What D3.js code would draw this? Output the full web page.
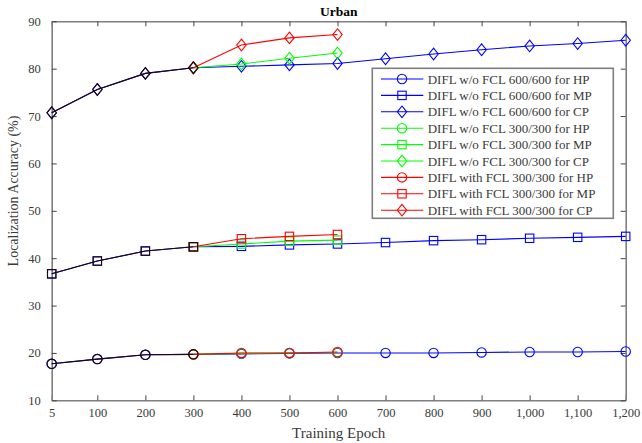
<!DOCTYPE html>
<html><head><meta charset="utf-8">
<script src="https://cdn.jsdelivr.net/npm/d3@7"></script>
<style>
html,body{margin:0;padding:0;background:#fff;}
svg{display:block;}
text{font-family:"Liberation Serif","DejaVu Serif",serif;}
</style>
</head><body>
<svg id="chart" width="642" height="443"></svg>
<script>
// ---- data ----
const epochs = [5,100,200,300,400,500,600,700,800,900,1000,1100,1200];
const epochsShort = [300,400,500,600];
const xTicks = [5,100,200,300,400,500,600,700,800,900,1000,1100,1200];
const yTicks = [10,20,30,40,50,60,70,80,90];

const w600HP = [17.7,18.7,19.6,19.7,19.8,19.9,20.0,20.0,20.0,20.1,20.2,20.2,20.3];
const w600MP = [36.7,39.4,41.5,42.4,42.5,42.8,43.0,43.3,43.7,43.9,44.2,44.4,44.6];
const w600CP = [70.7,75.6,79.0,80.2,80.5,80.8,81.1,82.1,83.1,84.0,84.8,85.3,86.0];

const w300HP = [19.7,19.9,20.0,20.1];
const w300MP = [42.4,43.0,43.6,43.8];
const w300CP = [80.2,81.0,82.2,83.3];

const f300HP = [19.7,20.0,20.0,20.2];
const f300MP = [42.4,44.1,44.6,45.0];
const f300CP = [80.2,85.0,86.5,87.2];

const legendLabels = [
  "DIFL w/o FCL 600/600 for HP","DIFL w/o FCL 600/600 for MP","DIFL w/o FCL 600/600 for CP",
  "DIFL w/o FCL 300/300 for HP","DIFL w/o FCL 300/300 for MP","DIFL w/o FCL 300/300 for CP",
  "DIFL with FCL 300/300 for HP","DIFL with FCL 300/300 for MP","DIFL with FCL 300/300 for CP"
];

const BLUE="#0000ff", GREEN="#00ff00", RED="#ff0000", DARK="#1e0805";
const series = [
  {xs:epochs, ys:w600HP, color:BLUE, m:"circle"},
  {xs:epochs, ys:w600MP, color:BLUE, m:"square"},
  {xs:epochs, ys:w600CP, color:BLUE, m:"diamond"},
  {xs:epochsShort, ys:w300HP, color:GREEN, m:"circle"},
  {xs:epochsShort, ys:w300MP, color:GREEN, m:"square"},
  {xs:epochsShort, ys:w300CP, color:GREEN, m:"diamond"},
  {xs:epochsShort, ys:f300HP, color:RED, m:"circle"},
  {xs:epochsShort, ys:f300MP, color:RED, m:"square"},
  {xs:epochsShort, ys:f300CP, color:RED, m:"diamond"}
];
// shared initial segment (5..300) drawn in dark colour on top
const shared = [
  {xs:epochs.slice(0,4), ys:w600HP.slice(0,4), color:DARK, m:"circle"},
  {xs:epochs.slice(0,4), ys:w600MP.slice(0,4), color:DARK, m:"square"},
  {xs:epochs.slice(0,4), ys:w600CP.slice(0,4), color:DARK, m:"diamond"}
];

// ---- layout ----
const svg = d3.select("#chart");
const L=51.7, R=625.7, T=21.3, B=400.3;
const x = d3.scaleLinear().domain([5,1200]).range([L,R]);
const y = d3.scaleLinear().domain([10,90]).range([B,T]);
const AX="#7f7f7f", TXT="#3a3a3a";

function marker(g, type, cx, cy, color){
  if(type==="circle"){
    g.append("circle").attr("cx",cx).attr("cy",cy).attr("r",4.7)
      .attr("fill","none").attr("stroke",color).attr("stroke-width",1.1);
  } else if(type==="square"){
    g.append("rect").attr("x",cx-4.2).attr("y",cy-4.2).attr("width",8.4).attr("height",8.4)
      .attr("fill","none").attr("stroke",color).attr("stroke-width",1.1);
  } else {
    g.append("path").attr("d",`M${cx},${cy-5.8}L${cx+4.7},${cy}L${cx},${cy+5.8}L${cx-4.7},${cy}Z`)
      .attr("fill","none").attr("stroke",color).attr("stroke-width",1.1);
  }
}

// axes (MATLAB box style, ticks inward)
const gx = svg.append("g").attr("transform",`translate(0,${B})`)
  .call(d3.axisBottom(x).tickValues(xTicks).tickSizeInner(-5).tickSizeOuter(0).tickPadding(10)
    .tickFormat(d=>d>=1000? d3.format(",")(d): String(d)));
const gxt = svg.append("g").attr("transform",`translate(0,${T})`)
  .call(d3.axisTop(x).tickValues(xTicks).tickSizeInner(-5).tickSizeOuter(0).tickFormat(""));
const gy = svg.append("g").attr("transform",`translate(${L},0)`)
  .call(d3.axisLeft(y).tickValues(yTicks).tickSizeInner(-5).tickSizeOuter(0).tickPadding(11));
const gyr = svg.append("g").attr("transform",`translate(${R},0)`)
  .call(d3.axisRight(y).tickValues(yTicks).tickSizeInner(-5).tickSizeOuter(0).tickFormat(""));
[gx,gxt,gy,gyr].forEach(g=>{
  g.select(".domain").attr("stroke",AX).attr("stroke-width",1.6);
  g.selectAll(".tick line").attr("stroke","#444").attr("stroke-width",1);
  g.selectAll(".tick text").attr("fill",TXT).style("font-size","12.5px")
    .style("font-family",'"Liberation Serif",serif');
});
gx.selectAll(".tick text").attr("dy","0.5em");

// lines & markers
const line = d3.line();
function drawSeries(s){
  const pts = s.xs.map((v,i)=>[x(v),y(s.ys[i])]);
  svg.append("path").attr("d",line(pts)).attr("fill","none")
    .attr("stroke",s.color).attr("stroke-width",1.1);
  const g = svg.append("g");
  pts.forEach(p=>marker(g,s.m,p[0],p[1],s.color));
}
series.forEach(drawSeries);
shared.forEach(drawSeries);

// title and labels
svg.append("text").attr("x",(L+R)/2).attr("y",16).attr("text-anchor","middle")
  .style("font-weight","bold").style("font-size","13.5px").attr("fill","#000").text("Urban");
svg.append("text").attr("x",(L+R)/2).attr("y",438).attr("text-anchor","middle")
  .style("font-size","15px").attr("fill",TXT).text("Training Epoch");
svg.append("text").attr("transform",`translate(18,191) rotate(-90)`).attr("text-anchor","middle")
  .style("font-size","14px").attr("fill",TXT).text("Localization Accuracy (%)");

// legend
const lg = svg.append("g");
lg.append("rect").attr("x",372.3).attr("y",68.3).attr("width",241).attr("height",150)
  .attr("fill","#fff").attr("stroke",AX).attr("stroke-width",1.6);
series.forEach((s,i)=>{
  const cy = 79 + i*16.4;
  lg.append("line").attr("x1",381).attr("x2",423.3).attr("y1",cy).attr("y2",cy)
    .attr("stroke",s.color).attr("stroke-width",1.1);
  marker(lg,s.m,402,cy,s.color);
  lg.append("text").attr("x",427.7).attr("y",cy).attr("dy","0.35em")
    .style("font-size","13px").attr("fill",TXT).text(legendLabels[i]);
});
</script>
</body></html>
